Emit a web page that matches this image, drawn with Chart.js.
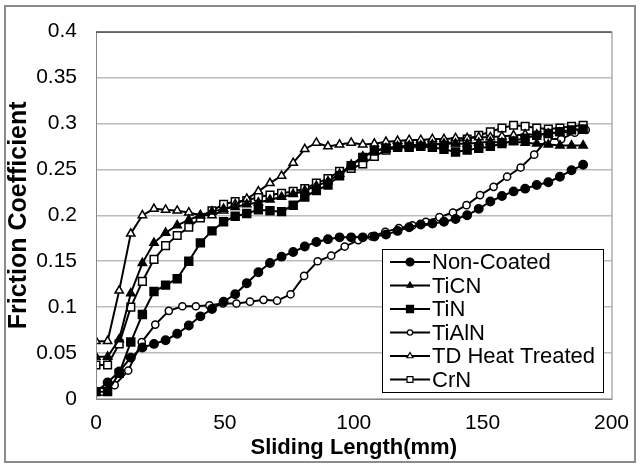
<!DOCTYPE html>
<html>
<head>
<meta charset="utf-8">
<script src="https://cdn.jsdelivr.net/npm/chart.js@4.4.1/dist/chart.umd.min.js"></script>
<style>
  html, body { margin: 0; padding: 0; background: #fff; }
  #wrap { width: 641px; height: 466px; position: relative; }
</style>
</head>
<body>
<div id="wrap"><canvas id="grafico" width="641" height="466"></canvas></div>
<script>
// sliding length (mm) sample points, shared by most of the series
const xMain = [0, 4.5, 9, 13.5, 18, 22.5, 27, 31.5, 36, 40.5, 45, 49.5, 54, 58.5, 63, 67.5, 72, 76.5, 81, 85.5,
    90, 94.5, 99, 103.5, 108, 112.5, 117, 121.5, 126, 130.5, 135, 139.5, 144, 148.5, 153, 157.5, 162, 166.5,
    171, 175.5, 180, 184.5, 189];
// TiAlN was sampled a bit more sparsely
const xTiAlN = [0, 2, 7.25, 12.5, 17.75, 23, 28.25, 33.5, 38.75, 44, 49.25, 54.5, 59.75, 65, 70.25, 75.5, 80.75,
    86, 91.25, 96.5, 101.75, 107, 112.25, 117.5, 122.75, 128, 133.25, 138.5, 143.75, 149, 154.25, 159.5,
    164.75, 170, 175.25, 180.5, 185.75, 190];

const nonCoated = [0.008, 0.018, 0.03, 0.045, 0.056, 0.06, 0.064, 0.071, 0.08, 0.09, 0.098, 0.106, 0.114, 0.126,
    0.138, 0.148, 0.155, 0.16, 0.166, 0.171, 0.174, 0.176, 0.176, 0.176, 0.177, 0.179, 0.183, 0.187, 0.19,
    0.191, 0.193, 0.196, 0.2, 0.207, 0.215, 0.221, 0.226, 0.229, 0.233, 0.236, 0.242, 0.249, 0.255];
const tiCN = [0.046, 0.046, 0.065, 0.115, 0.148, 0.17, 0.181, 0.189, 0.195, 0.2, 0.204, 0.207, 0.209, 0.212,
    0.214, 0.217, 0.22, 0.223, 0.227, 0.232, 0.237, 0.245, 0.255, 0.264, 0.27, 0.273, 0.275, 0.276, 0.276,
    0.277, 0.278, 0.278, 0.278, 0.279, 0.28, 0.279, 0.28, 0.279, 0.278, 0.277, 0.276, 0.276, 0.276];
const tiN = [0.008, 0.008, 0.028, 0.062, 0.092, 0.117, 0.124, 0.131, 0.15, 0.17, 0.183, 0.193, 0.199, 0.202,
    0.206, 0.205, 0.204, 0.211, 0.22, 0.227, 0.233, 0.243, 0.254, 0.263, 0.27, 0.273, 0.274, 0.274, 0.275,
    0.274, 0.272, 0.269, 0.271, 0.273, 0.275, 0.278, 0.281, 0.284, 0.287, 0.289, 0.291, 0.293, 0.294];
const tiAlN = [0.008, 0.008, 0.015, 0.031, 0.062, 0.081, 0.096, 0.101, 0.101, 0.102, 0.104, 0.104, 0.106, 0.108,
    0.107, 0.114, 0.134, 0.15, 0.156, 0.166, 0.173, 0.177, 0.182, 0.186, 0.189, 0.193, 0.198, 0.203, 0.211,
    0.222, 0.231, 0.242, 0.252, 0.266, 0.283, 0.283, 0.29, 0.293];
const tdHeat = [0.063, 0.063, 0.118, 0.18, 0.2, 0.207, 0.206, 0.205, 0.203, 0.2, 0.2, 0.205, 0.212, 0.218, 0.226,
    0.235, 0.243, 0.257, 0.272, 0.279, 0.275, 0.277, 0.279, 0.277, 0.278, 0.28, 0.281, 0.282, 0.282, 0.283,
    0.283, 0.284, 0.284, 0.285, 0.285, 0.286, 0.287, 0.288, 0.288, 0.289, 0.29, 0.291, 0.292];
const crN = [0.037, 0.037, 0.06, 0.1, 0.128, 0.152, 0.167, 0.178, 0.187, 0.197, 0.205, 0.212, 0.215, 0.216, 0.22,
    0.222, 0.224, 0.226, 0.229, 0.235, 0.24, 0.248, 0.251, 0.256, 0.264, 0.271, 0.274, 0.276, 0.277, 0.277,
    0.278, 0.28, 0.283, 0.287, 0.291, 0.295, 0.298, 0.297, 0.295, 0.294, 0.295, 0.297, 0.298];

const seriesNames = ['Non-Coated', 'TiCN', 'TiN', 'TiAlN', 'TD Heat Treated', 'CrN'];
const yTickLabels = ['0', '0.05', '0.1', '0.15', '0.2', '0.25', '0.3', '0.35', '0.4'];

const fonte = '"Liberation Sans", Arial, sans-serif';

function pares(xs, ys) {
    return ys.map((y, i) => ({ x: xs[i], y: y }));
}

function serie(label, xs, ys, style, radius, filled) {
    return {
        label: label,
        data: pares(xs, ys),
        borderColor: '#000',
        borderWidth: 2,
        pointStyle: style,
        pointRadius: radius,
        pointBorderWidth: 1.5,
        pointBorderColor: '#000',
        pointBackgroundColor: filled ? '#000' : '#fff',
        fill: false,
        tension: 0
    };
}

// tamanhos dos marcadores na legenda
const legendMarks = [
    { style: 'circle', r: 4, filled: true },
    { style: 'triangle', r: 3.5, filled: true },
    { style: 'rect', r: 5, filled: true },
    { style: 'circle', r: 2.6, filled: false },
    { style: 'triangle', r: 3.5, filled: false },
    { style: 'rect', r: 4.2, filled: false }
];

const boxPlugin = {
    id: 'boxPlugin',
    afterDraw(chart) {
        const ctx = chart.ctx;
        const a = chart.chartArea;
        ctx.save();
        // plot area frame
        ctx.strokeStyle = '#868686';
        ctx.lineWidth = 1;
        ctx.strokeRect(a.left + 0.5, a.top + 0.5, a.right - a.left, a.bottom - a.top);
        ctx.strokeStyle = '#333';
        ctx.beginPath();
        ctx.moveTo(a.left, a.top + 0.5);
        ctx.lineTo(a.right, a.top + 0.5);
        ctx.stroke();

        // legend
        const lx = 382, ly = 249, lw = 221, lh = 143;
        ctx.fillStyle = '#fff';
        ctx.fillRect(lx, ly, lw, lh);
        ctx.strokeStyle = '#000';
        ctx.strokeRect(lx + 0.5, ly + 0.5, lw, lh);
        ctx.font = '22px ' + fonte;
        ctx.textBaseline = 'middle';
        chart.data.datasets.forEach((ds, i) => {
            const y = 262 + i * 23.5;
            ctx.strokeStyle = '#000';
            ctx.lineWidth = 2;
            ctx.beginPath();
            ctx.moveTo(390, y);
            ctx.lineTo(430, y);
            ctx.stroke();
            const m = legendMarks[i];
            ctx.fillStyle = m.filled ? '#000' : '#fff';
            ctx.lineWidth = 1.2;
            Chart.helpers.drawPoint(ctx, { pointStyle: m.style, radius: m.r, rotation: 0, borderWidth: 1.2 }, 410, y);
            ctx.fillStyle = '#000';
            ctx.fillText(ds.label, 432, y + 1);
        });

        // outer frame
        ctx.strokeStyle = '#8c8c8c';
        ctx.lineWidth = 2;
        ctx.strokeRect(5, 6, 630, 456);
        ctx.restore();
    }
};

const ctx = document.getElementById('grafico').getContext('2d');

const grafico = new Chart(ctx, {
    type: 'line',
    data: {
        datasets: [
            serie(seriesNames[0], xMain, nonCoated, 'circle', 4.2, true),
            serie(seriesNames[1], xMain, tiCN, 'triangle', 4.8, true),
            serie(seriesNames[2], xMain, tiN, 'rect', 5.6, true),
            serie(seriesNames[3], xTiAlN, tiAlN, 'circle', 3.6, false),
            serie(seriesNames[4], xMain, tdHeat, 'triangle', 4.8, false),
            serie(seriesNames[5], xMain, crN, 'rect', 5.4, false)
        ]
    },
    options: {
        responsive: false,
        animation: false,
        layout: { padding: { left: 4, right: 27, top: 28, bottom: 5 } },
        plugins: {
            legend: { display: false },
            tooltip: { enabled: false }
        },
        scales: {
            x: {
                type: 'linear',
                min: 0,
                max: 200,
                ticks: {
                    stepSize: 50,
                    color: '#000',
                    padding: 12,
                    maxRotation: 0,
                    font: { family: fonte, size: 21 }
                },
                grid: { display: false, drawTicks: false },
                border: { color: '#868686', width: 1 },
                title: {
                    display: true,
                    text: 'Sliding Length(mm)',
                    color: '#000',
                    padding: { top: 2, bottom: 0 },
                    font: { family: fonte, size: 22, weight: 'bold' }
                },
                afterFit(scale) { scale.height = 62; }
            },
            y: {
                min: 0,
                max: 0.4,
                ticks: {
                    stepSize: 0.05,
                    color: '#000',
                    padding: 19,
                    font: { family: fonte, size: 21 },
                    callback: (v, i) => yTickLabels[i]
                },
                grid: { color: '#bcbcbc', lineWidth: 1.5, drawTicks: false },
                border: { color: '#868686', width: 1 },
                title: {
                    display: true,
                    text: 'Friction Coefficient',
                    color: '#000',
                    padding: { top: 0, bottom: 2 },
                    font: { family: fonte, size: 25, weight: 'bold' }
                },
                afterFit(scale) { scale.width = 92; }
            }
        }
    },
    plugins: [boxPlugin]
});
</script>
</body>
</html>
